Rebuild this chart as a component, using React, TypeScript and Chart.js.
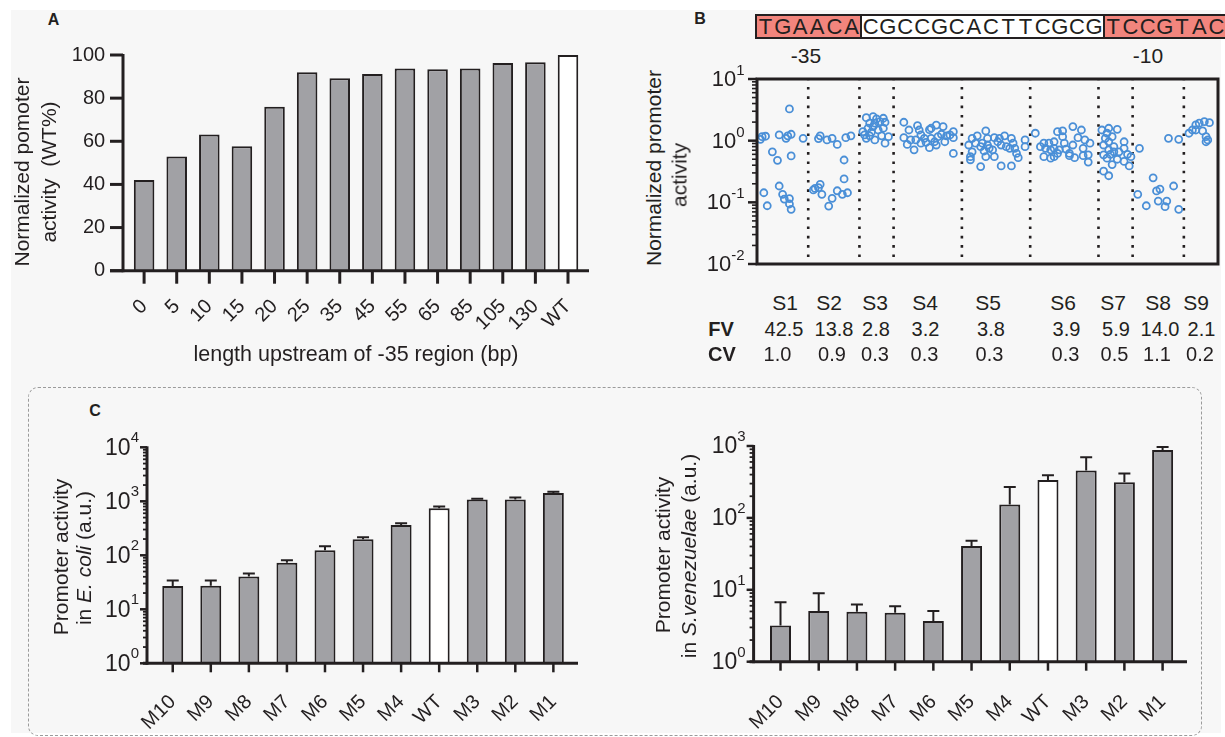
import React, { useEffect, useRef } from 'react';
import { Chart, registerables } from 'chart.js';
Chart.register(...registerables);

const INK = '#231f20';
const GRAY = '#a1a1a5';
const RED = '#f2857d';
const BG = '#f7f7f7';
const BLUE = '#4a8fd7';
const FONT = "'Liberation Sans', Arial, Helvetica, sans-serif";

// ---------- Panel A ----------
const lengthLabels = ['0', '5', '10', '15', '20', '25', '35', '45', '55', '65', '85', '105', '130', 'WT'];
const lengthActivity = [42.0, 52.9, 63.1, 57.7, 76.0, 92.0, 89.2, 91.2, 93.7, 93.4, 93.7, 96.3, 96.6, 100];

// ---------- Panel B ----------
const seqMinus35 = 'TGAACA';
const seqSpacer = 'CGCCGCACTTCGCG';
const seqMinus10 = 'TCCGTAC';
const segmentLabels = ['S1', 'S2', 'S3', 'S4', 'S5', 'S6', 'S7', 'S8', 'S9'];
const segmentFV = ['42.5', '13.8', '2.8', '3.2', '3.8', '3.9', '5.9', '14.0', '2.1'];
const segmentCV = ['1.0', '0.9', '0.3', '0.3', '0.3', '0.3', '0.5', '1.1', '0.2'];
const segmentBounds = [3, 6, 8, 12, 16, 20, 22, 25];

const s1Points = [[1.9, 3.27], [0.2, 1.05], [0.3, 1.16], [0.5, 1.18], [1.3, 1.24], [1.7, 1.09], [1.8, 1.2], [2.0, 1.27], [2.7, 1.09], [0.9, 0.66], [1.2, 0.48], [2.0, 0.565], [1.3, 0.184], [0.4, 0.143], [1.5, 0.135], [1.6, 0.113], [1.9, 0.115], [1.9, 0.094], [2.0, 0.077], [0.6, 0.088]];
const s2Points = [[3.6, 1.08], [3.7, 1.2], [4.1, 1.03], [4.4, 1.09], [4.7, 0.87], [5.2, 1.12], [5.5, 1.2], [5.1, 0.486], [3.3, 0.159], [3.4, 0.168], [3.6, 0.173], [3.7, 0.196], [3.8, 0.135], [4.2, 0.087], [4.4, 0.116], [4.7, 0.154], [5.1, 0.24], [5.0, 0.135], [5.3, 0.143]];
const s3Points = [[6.4, 2.36], [6.8, 2.45], [7.0, 2.25], [7.4, 2.31], [6.6, 1.92], [6.9, 1.92], [7.2, 2.03], [7.5, 1.99], [6.2, 1.4], [6.5, 1.59], [6.8, 1.69], [7.1, 1.49], [7.4, 1.59], [6.3, 1.24], [6.6, 1.2], [6.9, 1.03], [7.7, 1.16], [7.5, 0.91], [6.4, 1.09], [7.3, 1.2], [6.7, 1.37]];
const s4Points = [[8.6, 1.99], [8.9, 1.49], [9.4, 1.75], [9.5, 1.49], [10.1, 1.51], [10.5, 1.79], [10.9, 1.69], [10.2, 1.59], [8.6, 1.12], [9.0, 1.03], [8.8, 0.87], [9.2, 0.71], [9.3, 1.03], [9.6, 1.24], [9.6, 0.91], [9.8, 1.09], [10.2, 1.09], [10.1, 0.77], [10.5, 0.85], [10.6, 1.16], [10.8, 1.27], [11.1, 1.2], [11.3, 1.24], [11.5, 1.4], [11.5, 1.12], [11.5, 0.62], [11.0, 0.96], [9.9, 0.94], [10.4, 0.96]];
const s5Points = [[12.4, 0.85], [12.6, 1.09], [12.5, 0.55], [12.6, 0.66], [12.5, 0.49], [12.9, 1.2], [12.8, 0.91], [13.1, 0.8], [13.2, 0.91], [13.4, 1.44], [13.5, 1.09], [13.3, 0.68], [13.5, 0.85], [13.6, 0.75], [13.8, 0.71], [13.9, 1.12], [14.1, 0.96], [14.2, 1.09], [14.5, 1.2], [14.3, 0.85], [14.6, 0.8], [14.9, 1.09], [15.0, 0.91], [15.1, 0.75], [15.2, 0.62], [15.3, 0.53], [14.8, 0.75], [13.4, 0.55], [13.9, 0.55], [13.1, 0.38], [14.3, 0.39], [14.9, 0.39], [15.7, 1.03], [15.7, 0.8]];
const s6Points = [[16.3, 1.32], [16.6, 0.8], [16.8, 0.91], [16.9, 0.75], [16.8, 0.55], [17.1, 0.91], [17.2, 0.71], [17.2, 0.52], [17.4, 0.96], [17.4, 0.75], [17.6, 0.62], [17.6, 1.4], [17.9, 1.44], [17.9, 1.16], [18.0, 0.91], [17.7, 0.71], [18.1, 0.73], [18.3, 0.57], [18.5, 1.69], [17.4, 0.55], [19.0, 1.49], [18.8, 1.12], [19.2, 1.03], [19.5, 0.91], [18.5, 0.85], [19.1, 0.75], [19.4, 0.59], [19.4, 0.45], [18.6, 0.53], [19.1, 0.57], [18.3, 0.62]];
const s7Points = [[20.2, 1.49], [20.6, 1.59], [21.1, 1.53], [20.8, 1.16], [20.4, 1.09], [20.6, 0.96], [20.3, 0.85], [20.9, 0.8], [21.5, 0.96], [21.5, 0.75], [20.6, 0.71], [20.3, 0.59], [20.7, 0.6], [21.2, 0.66], [21.7, 0.6], [20.5, 0.52], [20.8, 0.41], [21.1, 0.5], [21.5, 0.46], [21.8, 0.39], [20.3, 0.32], [20.6, 0.27], [21.9, 0.55], [20.5, 1.32], [20.9, 0.66]];
const s8Points = [[22.4, 0.75], [22.3, 0.135], [22.8, 0.088], [23.2, 0.25], [23.6, 0.164], [23.4, 0.153], [24.4, 0.184], [23.5, 0.105], [24.0, 0.105], [23.9, 0.085], [24.7, 0.077], [24.1, 1.09], [24.7, 1.05]];
const s9Points = [[25.3, 1.32], [25.5, 1.49], [25.7, 1.8], [25.9, 1.92], [26.2, 2.03], [26.5, 1.96], [25.7, 1.49], [26.1, 1.44], [26.3, 1.16], [26.3, 0.96], [26.4, 1.03]];

// ---------- Panel C ----------
const mutantLabels = ['M10', 'M9', 'M8', 'M7', 'M6', 'M5', 'M4', 'WT', 'M3', 'M2', 'M1'];
const ecoliMean = [27.0, 27.4, 40.3, 73, 124, 198, 365, 742, 1075, 1075, 1426];
const ecoliSD = [7, 6.6, 5.7, 8, 23, 17, 26, 55, 45, 95, 84];
const svenMean = [3.2, 5.07, 4.96, 4.8, 3.68, 40.6, 154, 336, 458, 312, 879];
const svenSD = [3.5, 3.9, 1.3, 1.1, 1.4, 7.4, 115, 55, 237, 104, 91];

// ---------- layout (text positions, not data) ----------
const tableSX = [785, 829, 875, 925, 988, 1063, 1113, 1158, 1196];
const tableFX = [784, 834, 876, 925.5, 991, 1066.5, 1116, 1160, 1201.5];
const tableCX = [777.5, 832, 875, 924.5, 989.5, 1065.5, 1114.5, 1157, 1200];

function gpAxes(cfg: any) {
  return {
    id: 'gpAxes',
    afterDatasetsDraw(chart: any) {
      const { ctx, chartArea: ca } = chart;
      const xs = chart.scales.x;
      const ys = chart.scales.y;
      const ax = ca.left - (cfg.yGap || 0);
      ctx.save();
      ctx.strokeStyle = INK;
      ctx.fillStyle = INK;
      ctx.lineCap = 'butt';
      const seg = (x1: number, y1: number, x2: number, y2: number, w: number) => {
        ctx.lineWidth = w;
        ctx.beginPath();
        ctx.moveTo(x1, y1);
        ctx.lineTo(x2, y2);
        ctx.stroke();
      };
      if (cfg.log) {
        const e0 = Math.round(Math.log10(ys.min));
        const e1 = Math.round(Math.log10(ys.max));
        for (let e = e0; e <= e1; e++) {
          for (let k = 1; k <= 9; k++) {
            if (e === e1 && k > 1) break;
            const py = ys.getPixelForValue(k * Math.pow(10, e));
            const major = k === 1;
            seg(ax - (major ? cfg.majorLen : cfg.minorLen), py, ax, py, major ? cfg.tickW : cfg.minorW);
          }
          const py = ys.getPixelForValue(Math.pow(10, e));
          const exp = String(e);
          ctx.font = `${cfg.expSize}px ${FONT}`;
          const ew = ctx.measureText(exp).width;
          ctx.font = `${cfg.labelSize}px ${FONT}`;
          const bw = ctx.measureText('10').width;
          const R = ax - cfg.majorLen - cfg.labelGap;
          ctx.textAlign = 'left';
          ctx.textBaseline = 'middle';
          ctx.fillText('10', R - ew - bw, py + 1);
          ctx.font = `${cfg.expSize}px ${FONT}`;
          ctx.fillText(exp, R - ew, py - cfg.expRaise);
        }
      } else {
        ys.ticks.forEach((t: any) => {
          const py = ys.getPixelForValue(t.value);
          seg(ax - cfg.majorLen, py, ax, py, cfg.tickW);
        });
      }
      if (cfg.box) {
        ctx.lineWidth = cfg.lw;
        ctx.strokeRect(ca.left, ca.top, ca.right - ca.left, ca.bottom - ca.top);
      } else {
        seg(ax, ca.top - 1, ax, ca.bottom + cfg.lw / 2, cfg.lw);
        seg(ax - cfg.xLeft, ca.bottom, ca.right + cfg.xRight, ca.bottom, cfg.lw);
        xs.ticks.forEach((_t: any, i: number) => {
          const px = xs.getPixelForTick(i);
          seg(px, ca.bottom, px, ca.bottom + cfg.xTickLen, cfg.tickW);
        });
      }
      ctx.restore();
    },
  };
}

function errorBars(sd: number[]) {
  return {
    id: 'errorBars',
    afterDatasetsDraw(chart: any) {
      const { ctx } = chart;
      const ys = chart.scales.y;
      const meta = chart.getDatasetMeta(0);
      const vals = chart.data.datasets[0].data as number[];
      ctx.save();
      ctx.strokeStyle = INK;
      ctx.lineWidth = 2;
      meta.data.forEach((bar: any, i: number) => {
        const top = ys.getPixelForValue(vals[i] + sd[i]);
        ctx.beginPath();
        ctx.moveTo(bar.x, bar.y);
        ctx.lineTo(bar.x, top);
        ctx.moveTo(bar.x - 6, top);
        ctx.lineTo(bar.x + 6, top);
        ctx.stroke();
      });
      ctx.restore();
    },
  };
}

const baseOpts = () => ({
  animation: false,
  responsive: false,
  devicePixelRatio: 1,
  events: [],
  plugins: { legend: { display: false }, tooltip: { enabled: false } },
});

function configA(): any {
  return {
    type: 'bar',
    data: {
      labels: lengthLabels,
      datasets: [{
        data: lengthActivity,
        backgroundColor: lengthLabels.map((l) => (l === 'WT' ? '#ffffff' : GRAY)),
        borderColor: INK,
        borderWidth: 2,
        borderSkipped: 'bottom',
        barPercentage: 0.63,
        categoryPercentage: 1,
      }],
    },
    options: {
      ...baseOpts(),
      layout: { padding: { left: 0, top: 55, right: 25.7, bottom: 0 } },
      scales: {
        x: {
          type: 'category',
          grid: { display: false, drawTicks: false },
          border: { display: false },
          ticks: { autoSkip: false, minRotation: 45, maxRotation: 45, padding: 24, color: INK, font: { family: FONT, size: 20 } },
          afterFit: (s: any) => { s.height = 109.3; },
        },
        y: {
          min: 0,
          max: 100,
          grid: { display: false, drawTicks: false },
          border: { display: false },
          ticks: { stepSize: 20, padding: 22.6, color: INK, font: { family: FONT, size: 20 } },
          afterFit: (s: any) => { s.width = 127.8; },
        },
      },
    },
    plugins: [gpAxes({ yGap: 4.8, lw: 3, majorLen: 13, tickW: 3, xLeft: 13, xRight: 4.7, xTickLen: 13 })],
  };
}

function configB(): any {
  const all = [...s1Points, ...s2Points, ...s3Points, ...s4Points, ...s5Points, ...s6Points, ...s7Points, ...s8Points, ...s9Points]
    .map(([x, y]) => ({ x, y }));
  return {
    type: 'scatter',
    data: {
      datasets: [
        {
          type: 'scatter',
          data: all,
          pointRadius: 3.5,
          pointHoverRadius: 3.5,
          pointBorderWidth: 1.8,
          pointBorderColor: BLUE,
          pointBackgroundColor: 'rgba(0,0,0,0)',
          borderColor: BLUE,
          backgroundColor: 'rgba(0,0,0,0)',
        },
        ...segmentBounds.map((b) => ({
          type: 'line',
          data: [{ x: b, y: 10 }, { x: b, y: 0.01 }],
          borderColor: INK,
          borderWidth: 2.6,
          borderDash: [2.6, 6.7],
          borderDashOffset: 1.3,
          pointRadius: 0,
          fill: false,
          tension: 0,
        })),
      ],
    },
    options: {
      ...baseOpts(),
      layout: { padding: { left: 0, top: 19, right: 7, bottom: 11 } },
      scales: {
        x: { type: 'linear', min: 0, max: 27, display: false },
        y: {
          type: 'logarithmic',
          min: 0.01,
          max: 10,
          grid: { display: false, drawTicks: false },
          border: { display: false },
          ticks: { display: false },
          afterFit: (s: any) => { s.width = 67; },
        },
      },
    },
    plugins: [gpAxes({ yGap: 0, lw: 3, majorLen: 9, minorLen: 5, tickW: 2.5, minorW: 1.6, log: true, labelSize: 22, expSize: 15, expRaise: 8, labelGap: 3.5, box: true })],
  };
}

function configC(means: number[], sd: number[], yMax: number, lay: any): any {
  return {
    type: 'bar',
    data: {
      labels: mutantLabels,
      datasets: [{
        data: means,
        backgroundColor: mutantLabels.map((l) => (l === 'WT' ? '#ffffff' : GRAY)),
        borderColor: INK,
        borderWidth: 2,
        borderSkipped: 'bottom',
        barPercentage: 0.55,
        categoryPercentage: 1,
      }],
    },
    options: {
      ...baseOpts(),
      layout: { padding: { left: 0, top: lay.top, right: lay.right, bottom: 0 } },
      scales: {
        x: {
          type: 'category',
          grid: { display: false, drawTicks: false },
          border: { display: false },
          ticks: { autoSkip: false, minRotation: 45, maxRotation: 45, padding: lay.xPad, color: INK, font: { family: FONT, size: 20 } },
          afterFit: (s: any) => { s.height = lay.xH; },
        },
        y: {
          type: 'logarithmic',
          min: 1,
          max: yMax,
          grid: { display: false, drawTicks: false },
          border: { display: false },
          ticks: { display: false },
          afterFit: (s: any) => { s.width = lay.yW; },
        },
      },
    },
    plugins: [
      errorBars(sd),
      gpAxes({ yGap: lay.yGap, lw: 3, majorLen: 7, minorLen: 4, tickW: 2.5, minorW: 1.8, log: true, labelSize: 23, expSize: 15, expRaise: 9, labelGap: 1, xLeft: 4, xRight: lay.xRight, xTickLen: 9 }),
    ],
  };
}

function ChartCanvas({ left, top, width, height, make }: any) {
  const ref = useRef<HTMLCanvasElement>(null);
  useEffect(() => {
    const chart = new Chart(ref.current as HTMLCanvasElement, make());
    return () => chart.destroy();
  }, []);
  return <canvas ref={ref} width={width} height={height} style={{ position: 'absolute', left, top, width, height }} />;
}

function Txt({ x, y, size = 21, bold = false, rot = false, children }: any) {
  return (
    <div
      style={{
        position: 'absolute',
        left: x,
        top: y,
        transform: `translate(-50%, -50%)${rot ? ' rotate(-90deg)' : ''}`,
        fontSize: size,
        fontWeight: bold ? 700 : 400,
        whiteSpace: 'pre',
        lineHeight: 1,
      }}
    >
      {children}
    </div>
  );
}

function SeqBox() {
  const CH = 17.2;
  const segs = [
    { t: seqMinus35, bg: RED },
    { t: seqSpacer, bg: '#ffffff' },
    { t: seqMinus10, bg: RED },
  ];
  return (
    <div style={{ position: 'absolute', left: 755, top: 14, height: 25, display: 'flex', border: `2px solid ${INK}`, boxSizing: 'border-box' }}>
      {segs.map((s, i) => (
        <div key={i} style={{ display: 'flex', background: s.bg, borderLeft: i > 0 ? `2px solid ${INK}` : 'none', height: '100%', alignItems: 'center' }}>
          {s.t.split('').map((c, j) => (
            <span key={j} style={{ display: 'inline-block', width: CH, textAlign: 'center', fontSize: 22, lineHeight: '21px' }}>{c}</span>
          ))}
        </div>
      ))}
    </div>
  );
}

export default function App() {
  return (
    <div style={{ position: 'absolute', left: 0, top: 0, width: 1225, height: 737, background: '#ffffff', overflow: 'hidden', fontFamily: FONT, color: INK }}>
      <div style={{ position: 'absolute', left: 11, top: 10, width: 1210, height: 723, background: BG }} />
      <div style={{ position: 'absolute', left: 28, top: 387, width: 1174, height: 349, border: '1.5px dashed #9b9b9b', borderRadius: 10, boxSizing: 'border-box' }} />

      {/* Panel A */}
      <Txt x={53.5} y={20} size={16} bold>A</Txt>
      <ChartCanvas left={0} top={0} width={610} height={380} make={configA} />
      <Txt x={21} y={172} rot>Normalized pomoter</Txt>
      <Txt x={47.5} y={172} rot>{'activity  (WT%)'}</Txt>
      <Txt x={356} y={355} size={21.5}>length upstream of -35 region (bp)</Txt>

      {/* Panel B */}
      <Txt x={700} y={19} size={16} bold>B</Txt>
      <SeqBox />
      <Txt x={806} y={55} size={21}>-35</Txt>
      <Txt x={1148} y={55} size={21}>-10</Txt>
      <ChartCanvas left={690} top={60} width={535} height={215} make={configB} />
      <Txt x={652.5} y={167.5} rot>Normalized promoter</Txt>
      <Txt x={679} y={175} rot>activity</Txt>
      {segmentLabels.map((s, i) => (
        <Txt key={'s' + i} x={tableSX[i]} y={302} size={21}>{s}</Txt>
      ))}
      <Txt x={721} y={328.5} size={20} bold>FV</Txt>
      <Txt x={722} y={354} size={20} bold>CV</Txt>
      {segmentFV.map((s, i) => (
        <Txt key={'f' + i} x={tableFX[i]} y={328.5} size={20}>{s}</Txt>
      ))}
      {segmentCV.map((s, i) => (
        <Txt key={'c' + i} x={tableCX[i]} y={354} size={20}>{s}</Txt>
      ))}

      {/* Panel C */}
      <Txt x={95} y={411} size={16} bold>C</Txt>
      <ChartCanvas
        left={30}
        top={400}
        width={580}
        height={330}
        make={() => configC(ecoliMean, ecoliSD, 10000, { top: 47.3, right: 37.6, xH: 66.7, yW: 123.7, yGap: 6.7, xRight: 5.6, xPad: 27 })}
      />
      <Txt x={60.3} y={556.5} rot>Promoter activity</Txt>
      <Txt x={83} y={557.5} rot>in <i>E. coli</i> (a.u.)</Txt>
      <ChartCanvas
        left={640}
        top={400}
        width={570}
        height={330}
        make={() => configC(svenMean, svenSD, 1000, { top: 46, right: 28.3, xH: 68.3, yW: 121.4, yGap: 7.8, xRight: 5.3, xPad: 28.5 })}
      />
      <Txt x={661.5} y={555} rot>Promoter activity</Txt>
      <Txt x={687.7} y={556} rot>in <i>S.venezuelae</i> (a.u.)</Txt>
    </div>
  );
}
